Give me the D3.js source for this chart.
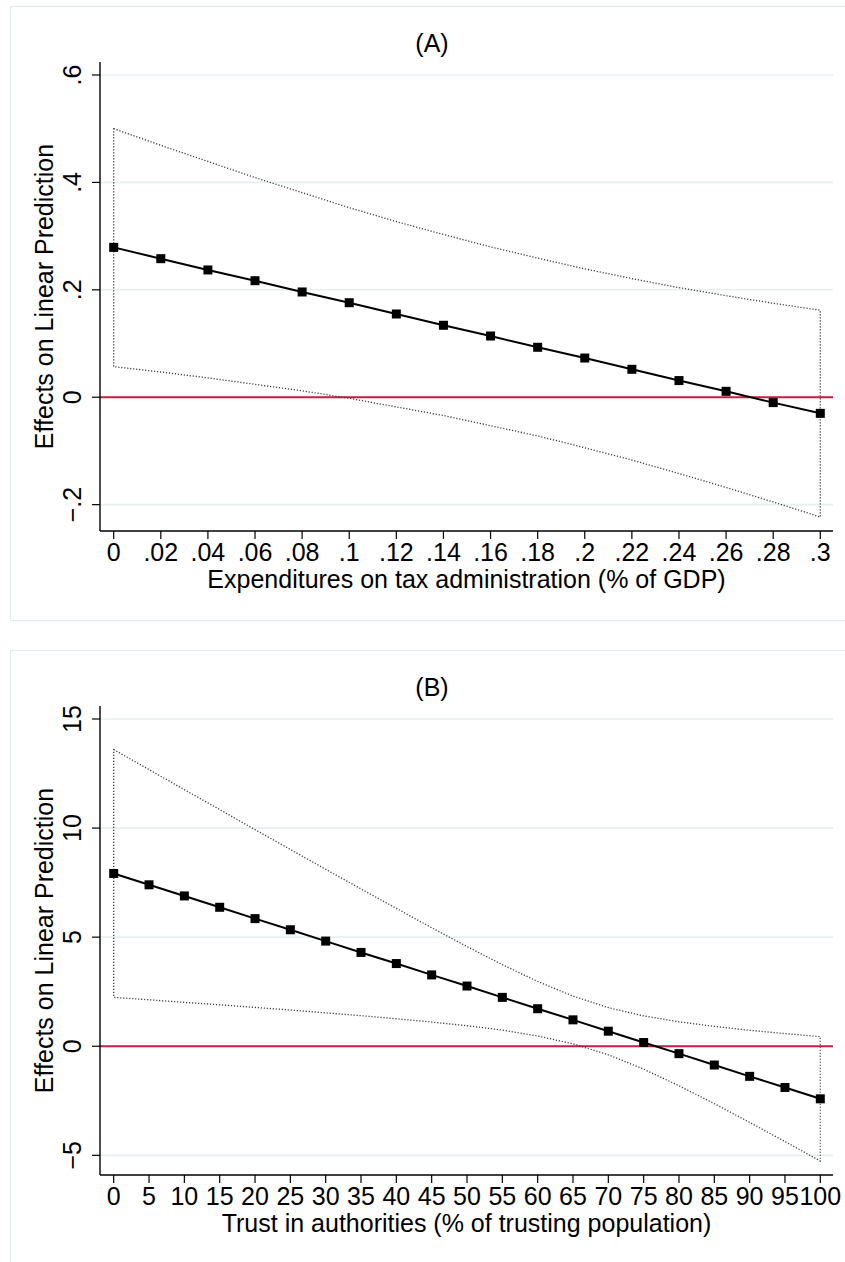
<!DOCTYPE html>
<html>
<head>
<meta charset="utf-8">
<script src="https://cdn.jsdelivr.net/npm/d3@7"></script>
<style>
  body { margin: 0; background: #fff; }
  svg { display: block; font-family: "Liberation Sans", Arial, Helvetica, sans-serif; }
</style>
</head>
<body>
<svg id="chart" width="845" height="1262"></svg>
<script>
// Panel (A): marginal effect across expenditures on tax administration
const xA = [0, 0.02, 0.04, 0.06, 0.08, 0.10, 0.12, 0.14, 0.16, 0.18, 0.20, 0.22, 0.24, 0.26, 0.28, 0.30];
const estA = [0.279, 0.258, 0.237, 0.217, 0.196, 0.176, 0.155, 0.134, 0.114, 0.093, 0.073, 0.052, 0.031, 0.011, -0.010, -0.030];
const upA  = [0.500, 0.469, 0.439, 0.409, 0.381, 0.353, 0.327, 0.303, 0.280, 0.259, 0.239, 0.221, 0.204, 0.189, 0.175, 0.162];
const loA  = [0.057, 0.047, 0.036, 0.024, 0.012, -0.002, -0.018, -0.034, -0.053, -0.072, -0.094, -0.117, -0.142, -0.168, -0.195, -0.223];
const xTickLabelsA = ["0", ".02", ".04", ".06", ".08", ".1", ".12", ".14", ".16", ".18", ".2", ".22", ".24", ".26", ".28", ".3"];
const yTicksA = [-0.2, 0, 0.2, 0.4, 0.6];
const yTickLabelsA = ["\u2212.2", "0", ".2", ".4", ".6"];

// Panel (B): marginal effect across trust in authorities
const xB = [0, 5, 10, 15, 20, 25, 30, 35, 40, 45, 50, 55, 60, 65, 70, 75, 80, 85, 90, 95, 100];
const estB = [7.92, 7.40, 6.89, 6.37, 5.85, 5.34, 4.82, 4.30, 3.79, 3.27, 2.76, 2.24, 1.72, 1.21, 0.69, 0.17, -0.34, -0.86, -1.38, -1.89, -2.41];
const upB  = [13.60, 12.68, 11.76, 10.85, 9.93, 9.02, 8.11, 7.21, 6.32, 5.43, 4.57, 3.74, 2.97, 2.30, 1.77, 1.39, 1.12, 0.91, 0.73, 0.58, 0.44];
const loB  = [2.24, 2.13, 2.01, 1.90, 1.78, 1.66, 1.53, 1.40, 1.26, 1.11, 0.94, 0.74, 0.47, 0.11, -0.39, -1.05, -1.81, -2.63, -3.49, -4.37, -5.26];
const xTickLabelsB = xB.map(String);
const yTicksB = [-5, 0, 5, 10, 15];
const yTickLabelsB = ["\u22125", "0", "5", "10", "15"];

const panels = [
  { title: "(A)", top: 6, x: xA, est: estA, up: upA, lo: loA, xLabels: xTickLabelsA,
    yTicks: yTicksA, yLabels: yTickLabelsA, xTitle: "Expenditures on tax administration (% of GDP)" },
  { title: "(B)", top: 650, x: xB, est: estB, up: upB, lo: loB, xLabels: xTickLabelsB,
    yTicks: yTicksB, yLabels: yTickLabelsB, xTitle: "Trust in authorities (% of trusting population)" }
];

const svg = d3.select("#chart");
const FS = 25;

panels.forEach(p => {
  const top = p.top;
  const L = 100, R = 833, T = top + 56, B = top + 525;
  const g = svg.append("g");

  // outer graph frame
  g.append("rect")
    .attr("x", 10.5).attr("y", top + 0.5)
    .attr("width", 844).attr("height", 614)
    .attr("fill", "#fff").attr("stroke", "#e2ecee").attr("stroke-width", 1.2);

  // title
  g.append("text").attr("x", 432).attr("y", top + 46)
    .attr("text-anchor", "middle").attr("font-size", FS).text(p.title);

  const x = d3.scaleLinear()
    .domain(d3.extent(p.x))
    .range([L + 13.7, R - 12.7]);
  const yExt = d3.extent([...p.yTicks, ...p.up, ...p.lo]);
  const y = d3.scaleLinear().domain(yExt).range([B - 14, T + 13]);

  // horizontal grid lines
  g.append("g").selectAll("line").data(p.yTicks).join("line")
    .attr("x1", L).attr("x2", R)
    .attr("y1", d => y(d)).attr("y2", d => y(d))
    .attr("stroke", "#e7eff1").attr("stroke-width", 1.6);

  // zero reference line
  g.append("line")
    .attr("x1", L).attr("x2", R).attr("y1", y(0)).attr("y2", y(0))
    .attr("stroke", "#cc1b44").attr("stroke-width", 1.8);

  // confidence band outline (upper edge, then lower edge back)
  const band = p.x.map((v, i) => [x(v), y(p.up[i])])
    .concat(p.x.map((v, i) => [x(v), y(p.lo[i])]).reverse());
  g.append("path")
    .attr("d", d3.line()(band) + "Z")
    .attr("fill", "none").attr("stroke", "#3c3c3c")
    .attr("stroke-width", 1.3).attr("stroke-dasharray", "1.2,1.8");

  // point estimates
  g.append("path")
    .datum(p.x.map((v, i) => [x(v), y(p.est[i])]))
    .attr("d", d3.line())
    .attr("fill", "none").attr("stroke", "#000").attr("stroke-width", 2);
  const S = 9;
  g.append("g").selectAll("rect").data(p.x).join("rect")
    .attr("x", (d) => x(d) - S / 2)
    .attr("y", (d, i) => y(p.est[i]) - S / 2)
    .attr("width", S).attr("height", S).attr("fill", "#000");

  // y axis
  g.append("line").attr("x1", L).attr("x2", L).attr("y1", T).attr("y2", B)
    .attr("stroke", "#000").attr("stroke-width", 1.4);
  g.append("g").selectAll("line").data(p.yTicks).join("line")
    .attr("x1", L - 8).attr("x2", L)
    .attr("y1", d => y(d)).attr("y2", d => y(d))
    .attr("stroke", "#000").attr("stroke-width", 1.2);
  g.append("g").selectAll("text").data(p.yTicks).join("text")
    .attr("transform", d => `translate(${L - 19},${y(d)}) rotate(-90)`)
    .attr("text-anchor", "middle").attr("font-size", FS)
    .text((d, i) => p.yLabels[i]);

  // x axis
  g.append("line").attr("x1", L).attr("x2", R).attr("y1", B).attr("y2", B)
    .attr("stroke", "#000").attr("stroke-width", 1.4);
  g.append("g").selectAll("line").data(p.x).join("line")
    .attr("x1", d => x(d)).attr("x2", d => x(d))
    .attr("y1", B).attr("y2", B + 8)
    .attr("stroke", "#000").attr("stroke-width", 1.2);
  g.append("g").selectAll("text").data(p.x).join("text")
    .attr("x", d => x(d)).attr("y", B + 30)
    .attr("text-anchor", "middle").attr("font-size", FS)
    .text((d, i) => p.xLabels[i]);

  // axis titles
  g.append("text").attr("x", (L + R) / 2).attr("y", B + 57)
    .attr("text-anchor", "middle").attr("font-size", FS).text(p.xTitle);
  g.append("text")
    .attr("transform", `translate(53,${(T + B) / 2}) rotate(-90)`)
    .attr("text-anchor", "middle").attr("font-size", FS)
    .text("Effects on Linear Prediction");
});
</script>
</body>
</html>
